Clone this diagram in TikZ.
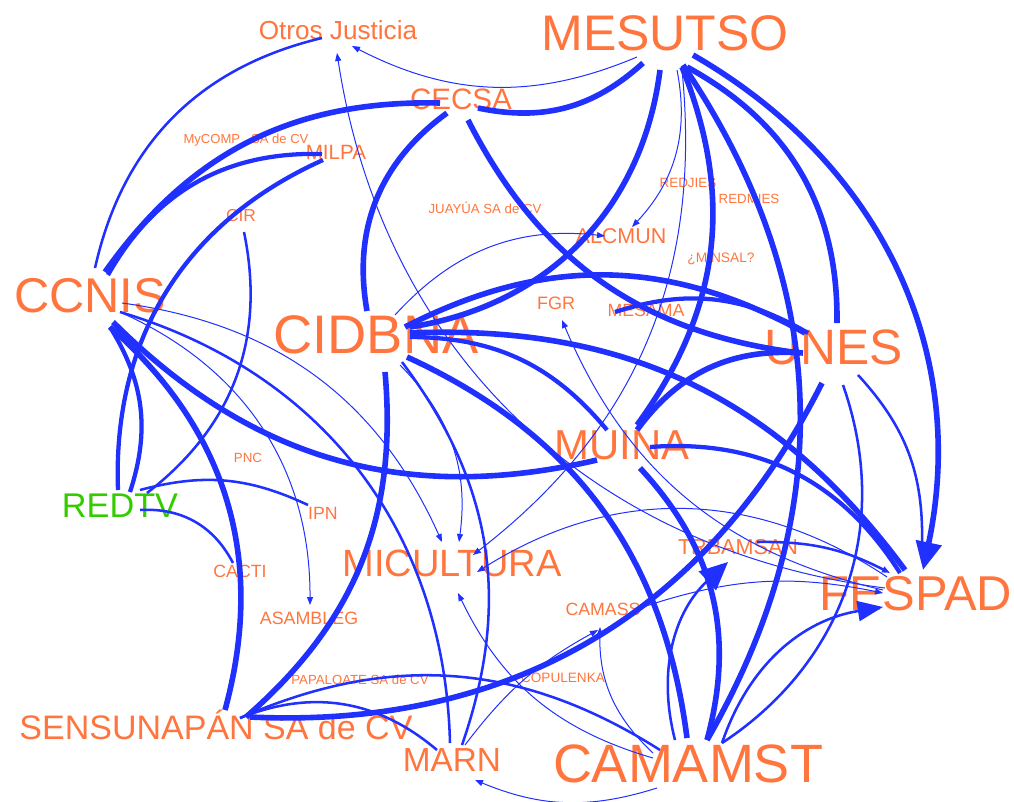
\documentclass[tikz,border=0pt]{standalone}
\usepackage{fontspec}
\setmainfont{Liberation Sans}
\usetikzlibrary{arrows.meta}
\definecolor{orng}{RGB}{255,117,61}
\definecolor{grn}{RGB}{51,204,0}
\definecolor{blu}{RGB}{32,48,255}

\begin{document}
\begin{tikzpicture}[x=0.75pt,y=-0.75pt,
  lab/.style = {text=orng, inner sep=0pt, anchor=base},
  fs/.style = {font=\fontsize{#1}{#1}\selectfont},
  w1/.style = {draw=blu, line width=0.75pt},
  w2/.style = {draw=blu, line width=1.9pt},
  w4/.style = {draw=blu, line width=3.2pt},
  w5/.style = {draw=blu, line width=4.2pt},
  arr/.style = {-{Triangle[length=6pt,width=4.5pt]}},
  medarr/.style = {-{Triangle[length=19pt,width=15pt]}},
  bigarr/.style = {-{Triangle[length=21pt,width=19pt]}}]
\useasboundingbox (0,0) rectangle (1014,801);
\node[lab,fs=19.6pt] (otros) at (338,39) {Otros Justicia};
\node[lab,fs=37.5pt] (mesutso) at (665,50) {MESUTSO};
\node[lab,fs=22.2pt] (cecsa) at (461,109) {CECSA};
\node[lab,fs=9.8pt] (mycomp) at (246,143) {MyCOMP . SA de CV};
\node[lab,fs=15.5pt] (milpa) at (336,159) {MILPA};
\node[lab,fs=13pt] (cir) at (241,221) {CIR};
\node[lab,fs=9.9pt] (juayua) at (485,213) {JUAYÚA SA de CV};
\node[lab,fs=10.1pt] (redjies) at (688,187) {REDJIES};
\node[lab,fs=10pt] (redmies) at (749,203) {REDMIES};
\node[lab,fs=16.1pt] (alcmun) at (621,243) {ALCMUN};
\node[lab,fs=10.3pt] (minsal) at (721,262) {¿MINSAL?};
\node[lab,fs=36.6pt] (ccnis) at (90,312) {CCNIS};
\node[lab,fs=13.5pt] (fgr) at (556,309) {FGR};
\node[lab,fs=13.3pt] (mesama) at (646,316) {MESAMA};
\node[lab,fs=40.7pt] (cidbna) at (376,353) {CIDBNA};
\node[lab,fs=37.3pt] (unes) at (834,364) {UNES};
\node[lab,fs=31.4pt] (muina) at (622,459) {MUINA};
\node[lab,fs=10pt] (pnc) at (248,462) {PNC};
\node[lab,fs=25.7pt,text=grn] (redtv) at (120,517) {REDTV};
\node[lab,fs=13.3pt] (ipn) at (323,519) {IPN};
\node[lab,fs=16.2pt] (trbamsan) at (738,554) {TRBAMSAN};
\node[lab,fs=28.5pt] (micultura) at (452,576) {MICULTURA};
\node[lab,fs=13.3pt] (cacti) at (240,577) {CACTI};
\node[lab,fs=36.7pt] (fespad) at (916,610) {FESPAD};
\node[lab,fs=13.3pt] (camass) at (603,615) {CAMASS};
\node[lab,fs=13.4pt] (asambleg) at (309,624) {ASAMBLEG};
\node[lab,fs=9.9pt] (papaloate) at (360,684) {PAPALOATE SA de CV};
\node[lab,fs=10.2pt] (copulenka) at (563,682) {COPULENKA};
\node[lab,fs=25.5pt] (sensunapan) at (216,739) {SENSUNAPÁN SA de CV};
\node[lab,fs=25pt] (marn) at (452,771) {MARN};
\node[lab,fs=40.5pt] (camamst) at (688,782) {CAMAMST};
% edges
\draw[w2] ([shift={(5,-44)}]ccnis.base) to[bend left=32] ([shift={(-16,-1)}]otros.base);
\draw[w1,arr] ([shift={(-28,7)}]mesutso.base) to[bend left=25] ([shift={(14,7)}]otros.base);
\draw[w5] ([shift={(15,-40)}]ccnis.base) to[bend left=28] ([shift={(-21,-6)}]cecsa.base);
\draw[w4] ([shift={(18,-37)}]ccnis.base) to[bend left=31] ([shift={(-14,-5)}]milpa.base);
\draw[w4] ([shift={(-13,1)}]milpa.base) to[bend right=34] ([shift={(-2,-27)}]redtv.base);
\draw[w2] ([shift={(3,11)}]cir.base) to[bend left=32] ([shift={(27,-24)}]redtv.base);
\draw[w4] ([shift={(20,15)}]ccnis.base) to[bend left=25] ([shift={(10,-25)}]redtv.base);
\draw[w5] ([shift={(20,15)}]ccnis.base) to[bend left=32] ([shift={(9,-29)}]sensunapan.base);
\draw[w5] ([shift={(23,10)}]ccnis.base) to[bend right=29] ([shift={(-25,1)}]muina.base);
\draw[w2] ([shift={(30,0)}]ccnis.base) to[bend left=36] ([shift={(-2,-28)}]marn.base);
\draw[w1,arr] ([shift={(32,1)}]ccnis.base) to[bend left=33] ([shift={(1,-19)}]asambleg.base);
\draw[w1,arr] ([shift={(32,-9)}]ccnis.base) to[bend left=29] ([shift={(-10,-34)}]micultura.base);
\draw[w1,arr] ([shift={(24,12)}]cidbna.base) to[bend left=26] ([shift={(7,-34)}]micultura.base);
\draw[w2] ([shift={(26,9)}]cidbna.base) to[bend left=28] ([shift={(10,-26)}]marn.base);
\draw[w5] ([shift={(9,19)}]cidbna.base) to[bend left=27] ([shift={(30,-22)}]sensunapan.base);
\draw[w5] ([shift={(31,4)}]cidbna.base) to[bend left=29] ([shift={(-1,-44)}]camamst.base);
\draw[w1,arr] ([shift={(19,-38)}]cidbna.base) to[bend left=27] ([shift={(-16,-7)}]alcmun.base);
\draw[w5] ([shift={(29,-26)}]cidbna.base) to[bend left=28] ([shift={(-29,-31)}]unes.base);
\draw[w5] ([shift={(34,-20)}]cidbna.base) to[bend left=28] ([shift={(-11,-40)}]fespad.base);
\draw[w4] ([shift={(34,-16)}]cidbna.base) to[bend left=25] ([shift={(-15,-29)}]muina.base);
\draw[w5] ([shift={(-5,20)}]mesutso.base) to[bend left=37] ([shift={(34,-26)}]cidbna.base);
\draw[w5] ([shift={(7,11)}]cecsa.base) to[bend right=28] ([shift={(-34,-11)}]unes.base);
\draw[w5] ([shift={(-14,4)}]cecsa.base) to[bend right=32] ([shift={(-9,-42)}]cidbna.base);
\draw[w5] ([shift={(-22,13)}]mesutso.base) to[bend left=27] ([shift={(17,-1)}]cecsa.base);
\draw[w1,arr] ([shift={(12,20)}]mesutso.base) to[bend left=27] ([shift={(11,-16)}]alcmun.base);
\draw[w1,arr] ([shift={(17,20)}]mesutso.base) to[bend left=29] ([shift={(21,-21)}]micultura.base);
\draw[w5] ([shift={(17,17)}]mesutso.base) to[bend left=29] ([shift={(15,-34)}]muina.base);
\draw[w5] ([shift={(22,17)}]mesutso.base) to[bend left=31] ([shift={(3,-41)}]unes.base);
\draw[w5,bigarr] ([shift={(28,5)}]mesutso.base) to[bend left=36] ([shift={(7,-40)}]fespad.base);
\draw[w5] ([shift={(18,15)}]mesutso.base) to[bend left=32] ([shift={(19,-42)}]camamst.base);
\draw[w4] ([shift={(-31,-4)}]mesama.base) to[bend left=24] ([shift={(-26,-31)}]unes.base);
\draw[w2] ([shift={(9,21)}]unes.base) to[bend left=38] ([shift={(34,-39)}]camamst.base);
\draw[w2] ([shift={(24,11)}]unes.base) to[bend left=22] ([shift={(6,-65)}]fespad.base);
\draw[w5] ([shift={(-31,-11)}]unes.base) to[bend right=29] ([shift={(15,-29)}]muina.base);
\draw[w5] ([shift={(-12,19)}]unes.base) to[bend left=33] ([shift={(34,-22)}]sensunapan.base);
\draw[w5] ([shift={(18,9)}]muina.base) to[bend left=29] ([shift={(19,-42)}]camamst.base);
\draw[w4] ([shift={(28,-12)}]muina.base) to[bend left=31] ([shift={(-16,-37)}]fespad.base);
\draw[w2,bigarr] ([shift={(-13,-42)}]camamst.base) to[bend left=31] ([shift={(-10,8)}]trbamsan.base);
\draw[w2,medarr] ([shift={(34,-39)}]camamst.base) to[bend left=31] ([shift={(-33,-3)}]fespad.base);
\draw[w1,arr] ([shift={(-35,-29)}]camamst.base) to[bend left=24] ([shift={(-3,12)}]camass.base);
\draw[w1,arr] ([shift={(-35,-24)}]camamst.base) to[bend left=24] ([shift={(6,17)}]micultura.base);
\draw[w1,arr] ([shift={(-31,6)}]camamst.base) to[bend left=20] ([shift={(23,9)}]marn.base);
\draw[w2] ([shift={(-28,-32)}]camamst.base) to[bend right=28] ([shift={(24,-21)}]sensunapan.base);
\draw[w2] ([shift={(24,-21)}]sensunapan.base) to[bend left=31] ([shift={(-15,-21)}]marn.base);
\draw[w1,arr] ([shift={(13,-26)}]marn.base) to[bend left=12] ([shift={(-5,15)}]camass.base);
\draw[w2] ([shift={(20,-27)}]redtv.base) to[bend left=20] ([shift={(-15,-14)}]ipn.base);
\draw[w2] ([shift={(20,-7)}]redtv.base) to[bend left=33] ([shift={(-7,-14)}]cacti.base);
\draw[w2,arr] ([shift={(19,-12)}]trbamsan.base) to[bend left=14] ([shift={(-26,-37)}]fespad.base);
\draw[w1,arr] ([shift={(-29,-33)}]fespad.base) to[bend right=33] ([shift={(25,-4)}]micultura.base);
\draw[w1,arr] ([shift={(-33,-20)}]fespad.base) to[bend left=27] ([shift={(6,11)}]fgr.base);
\draw[w1,arr] ([shift={(-31,-22)}]fespad.base) to[bend left=37] ([shift={(-1,14)}]otros.base);
\draw[w1,arr] ([shift={(37,-7)}]camass.base) to[bend left=15] ([shift={(-33,-17)}]fespad.base);
\end{tikzpicture}
\end{document}
